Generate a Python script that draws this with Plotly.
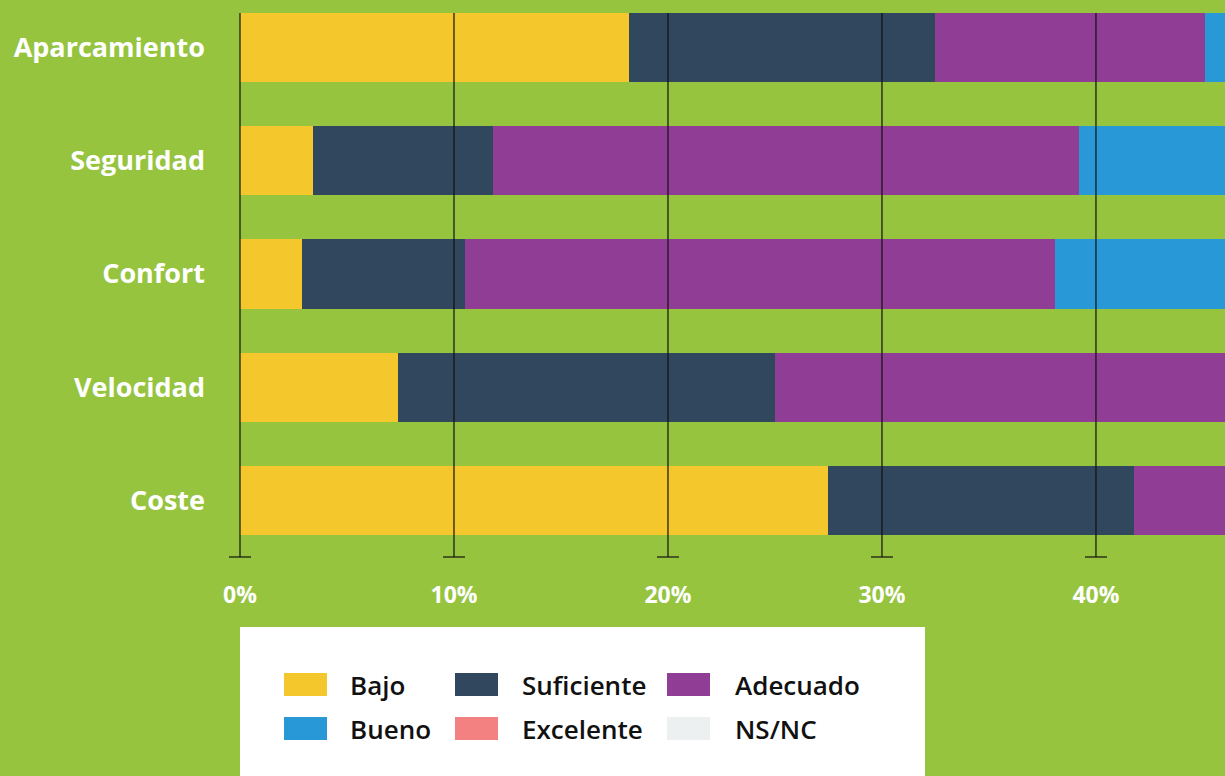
import plotly.graph_objects as go

# ---- data ----
categories = ["Coste", "Velocidad", "Confort", "Seguridad", "Aparcamiento"]  # bottom -> top
series = ["Bajo", "Suficiente", "Adecuado", "Bueno", "Excelente", "NS/NC"]
colors = ["#F4C82C", "#31475E", "#903E95", "#2898D6", "#F38181", "#ECF0F1"]

bajo       = [27.5, 7.4, 2.9, 3.4, 18.2]
suficiente = [14.3, 17.6, 7.6, 8.4, 14.3]
adecuado   = [30.0, 36.0, 27.6, 27.4, 12.6]
bueno      = [18.0, 25.0, 40.0, 38.0, 30.0]
excelente  = [7.0, 12.0, 20.0, 20.0, 20.0]
nsnc       = [3.2, 2.0, 1.9, 2.8, 4.9]
values = [bajo, suficiente, adecuado, bueno, excelente, nsnc]

tick_vals = [0, 10, 20, 30, 40]
tick_text = ["0%", "10%", "20%", "30%", "40%"]

BG = "#96C43F"
FONT = "Open Sans"
XMAX = 46.03

fig = go.Figure()
for name, col, vals in zip(series, colors, values):
    fig.add_trace(go.Bar(
        y=categories, x=vals, name=name, orientation="h",
        marker=dict(color=col, line=dict(width=0)), width=0.61,
        showlegend=False, hoverinfo="x+y+name",
    ))

shapes = []
# gridlines drawn above bars, with caps at bottom
for t in tick_vals:
    px = t / XMAX
    shapes.append(dict(type="line", xref="paper", yref="paper",
                       x0=px, x1=px, y0=0, y1=(557 - 13) / 557,
                       line=dict(color="#111111", width=1.2), layer="above"))
    shapes.append(dict(type="line", xref="paper", yref="paper",
                       x0=px - 11 / 985, x1=px + 11 / 985, y0=0, y1=0,
                       line=dict(color="#111111", width=1.2), layer="above"))

# custom legend box
def PX(x):
    return (x - 240) / 985

def PY(y):
    return (557 - y) / 557

shapes.append(dict(type="rect", xref="paper", yref="paper",
                   x0=PX(240), x1=PX(925), y0=PY(800), y1=PY(627),
                   fillcolor="white", line=dict(width=0), layer="above"))

annotations = []
sw_x = [284, 455, 667]
tx_x = [348, 520, 733]
rows_y = [684.5, 728.5]
for i, (name, col) in enumerate(zip(series, colors)):
    r, c = divmod(i, 3)
    cy = rows_y[r]
    shapes.append(dict(type="rect", xref="paper", yref="paper",
                       x0=PX(sw_x[c]), x1=PX(sw_x[c] + 43),
                       y0=PY(cy + 11.5), y1=PY(cy - 11.5),
                       fillcolor=col, line=dict(width=0), layer="above"))
    annotations.append(dict(xref="paper", yref="paper", x=PX(tx_x[c]), y=PY(cy),
                            text=name, showarrow=False, xanchor="left", yanchor="middle",
                            font=dict(family=FONT, size=26, color="#111111", weight=600)))

fig.update_layout(
    barmode="stack",
    width=1225, height=776,
    paper_bgcolor=BG, plot_bgcolor=BG,
    margin=dict(l=240, r=0, t=0, b=219),
    shapes=shapes, annotations=annotations,
    bargap=0.39,
    xaxis=dict(range=[0, XMAX], tickvals=tick_vals, ticktext=tick_text,
               showgrid=False, zeroline=False, showline=False, ticks="",
               tickfont=dict(family=FONT, size=23, color="white", weight="bold"),
               ticklabelstandoff=22, fixedrange=True),
    yaxis=dict(categoryorder="array", categoryarray=categories,
               range=[-0.5, 4.42], showgrid=False, zeroline=False, showline=False, ticks="",
               tickfont=dict(family=FONT, size=27, color="white", weight="bold"),
               ticklabelstandoff=34, fixedrange=True),
)

fig.write_html("out.html", config={"displayModeBar": False},
               post_script="document.body.style.margin='0';document.body.style.padding='0';")
